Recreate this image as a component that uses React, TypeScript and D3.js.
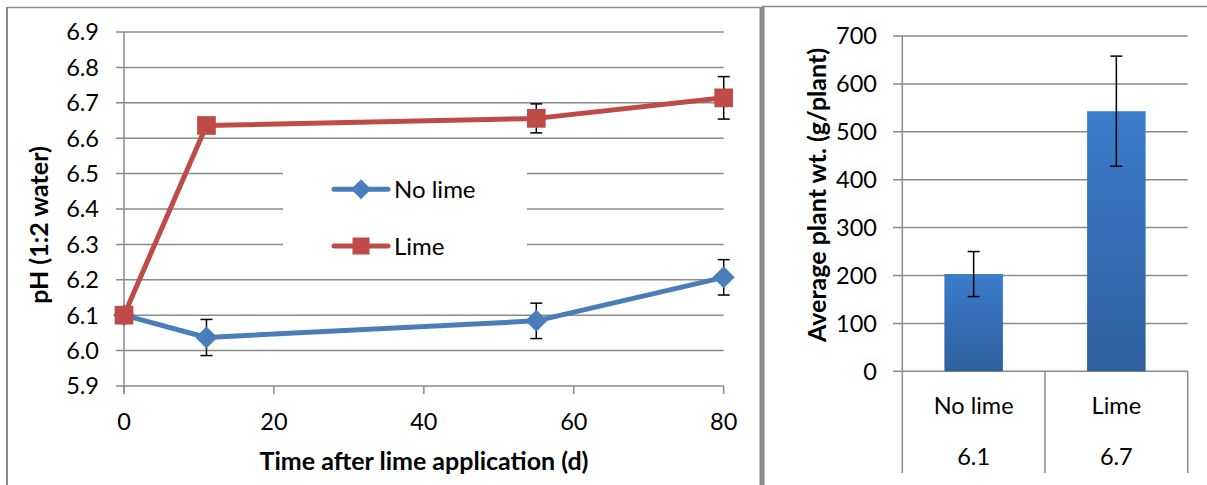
import React from 'react'
import * as d3 from 'd3'

// pH over time (left chart)
const days = [0, 11, 55, 80]
const noLimePH = [6.1, 6.037, 6.084, 6.207]
const noLimeErr = [0, 0.051, 0.05, 0.05]
const limePH = [6.1, 6.636, 6.656, 6.714]
const limeErr = [0, 0, 0.041, 0.06]
const phTicks = [5.9, 6.0, 6.1, 6.2, 6.3, 6.4, 6.5, 6.6, 6.7, 6.8, 6.9]
const dayTicks = [0, 20, 40, 60, 80]

// plant weight (right chart)
const treatments = ['No lime', 'Lime']
const soilPH = ['6.1', '6.7']
const plantWt = [203, 543]
const plantWtErr = [47, 115]
const wtTicks = [0, 100, 200, 300, 400, 500, 600, 700]

const FONT = 'Lato, "Open Sans", sans-serif'
const GRID = '#8a8a8a'
const BLUE = '#4A7EBB'
const RED = '#BE4B48'
const TICK_FS = 23.5
const TITLE_FS = 25

const App = () => {
  const W = 1207
  const H = 485

  // left chart scales
  const x = d3.scaleLinear().domain([0, 80]).range([124, 723.7])
  const y = d3.scaleLinear().domain([5.9, 6.9]).range([386, 32])

  const line = d3.line<number>()
    .x((d, i) => x(days[i]))
    .y(d => y(d))

  // right chart scales
  const catBand = d3.scaleBand<string>().domain(treatments).range([902.3, 1187.7])
  const barBand = d3.scaleBand<string>().domain(treatments).range([902.3, 1187.7])
    .paddingInner(0.59).paddingOuter(0.295)
  const yw = d3.scaleLinear().domain([0, 700]).range([371.3, 36])

  const series = [
    { name: 'No lime', vals: noLimePH, err: noLimeErr, color: BLUE, shape: 'diamond' },
    { name: 'Lime', vals: limePH, err: limeErr, color: RED, shape: 'square' },
  ]

  const marker = (shape: string, cx: number, cy: number, color: string, s: number) =>
    shape === 'diamond'
      ? <path d={`M${cx},${cy - s}L${cx + s},${cy}L${cx},${cy + s}L${cx - s},${cy}Z`} fill={color} />
      : <rect x={cx - s * 0.85} y={cy - s * 0.85} width={s * 1.7} height={s * 1.7} fill={color} />

  return (
    <svg width={W} height={H} style={{ position: 'absolute', left: 0, top: 0, background: '#fff' }}
      fontFamily={FONT}>
      <defs>
        <linearGradient id="barGrad" x1="0" y1="0" x2="0" y2="1">
          <stop offset="0" stopColor="#3B7CCB" />
          <stop offset="1" stopColor="#2F5F9E" />
        </linearGradient>
      </defs>

      {/* frames */}
      <line x1={7} x2={762} y1={7.5} y2={7.5} stroke={GRID} strokeWidth={1.5} />
      <line x1={7} x2={7} y1={7} y2={H} stroke={GRID} strokeWidth={2} />
      <line x1={762} x2={W} y1={6.5} y2={6.5} stroke={GRID} strokeWidth={1.5} />
      <rect x={759.5} y={7} width={5} height={H} fill={GRID} />

      {/* ---------- left chart ---------- */}
      {phTicks.map(t => (
        <g key={t}>
          <line x1={116} x2={723.7} y1={y(t)} y2={y(t)} stroke={GRID} strokeWidth={1.5} />
          <text x={99} y={y(t)} dy="0.36em" textAnchor="end" fontSize={TICK_FS} fill="#000">{t.toFixed(1)}</text>
        </g>
      ))}
      {/* legend box (white background breaks the gridlines) */}
      <rect x={283} y={152} width={244} height={116} fill="#fff" />
      <line x1={124} x2={124} y1={32} y2={394} stroke={GRID} strokeWidth={1.5} />
      {dayTicks.map(t => (
        <g key={t}>
          <line x1={x(t)} x2={x(t)} y1={386} y2={394} stroke={GRID} strokeWidth={1.5} />
          <text x={x(t)} y={421.7} dy="0.36em" textAnchor="middle" fontSize={TICK_FS}>{t}</text>
        </g>
      ))}
      <text x={424} y={470} textAnchor="middle" fontSize={TITLE_FS} fontWeight="bold">Time after lime application (d)</text>
      <text transform="translate(48,225) rotate(-90)" textAnchor="middle" fontSize={TITLE_FS} fontWeight="bold">pH (1:2 water)</text>

      {series.map(s => (
        <path key={s.name} d={line(s.vals) ?? ''} fill="none" stroke={s.color} strokeWidth={5}
          strokeLinejoin="round" strokeLinecap="round" />
      ))}
      {series.map(s => s.vals.map((v, i) => s.err[i] > 0 && (
        <g key={s.name + i} stroke="#000" strokeWidth={1.5}>
          <line x1={x(days[i])} x2={x(days[i])} y1={y(v + s.err[i])} y2={y(v - s.err[i])} />
          <line x1={x(days[i]) - 6} x2={x(days[i]) + 6} y1={y(v + s.err[i])} y2={y(v + s.err[i])} />
          <line x1={x(days[i]) - 6} x2={x(days[i]) + 6} y1={y(v - s.err[i])} y2={y(v - s.err[i])} />
        </g>
      )))}
      {series.map(s => s.vals.map((v, i) => (
        <g key={'m' + s.name + i}>{marker(s.shape, x(days[i]), y(v), s.color, 11)}</g>
      )))}

      {/* legend */}
      {series.map((s, i) => {
        const ly = 189.3 + i * 56.7
        return (
          <g key={'lg' + s.name}>
            <line x1={334} x2={388} y1={ly} y2={ly} stroke={s.color} strokeWidth={5} strokeLinecap="round" />
            {marker(s.shape, 361, ly, s.color, 10)}
            <text x={394} y={ly} dy="0.36em" fontSize={24}>{s.name}</text>
          </g>
        )
      })}

      {/* ---------- right chart ---------- */}
      {wtTicks.map(t => (
        <g key={t}>
          <line x1={893} x2={1187.7} y1={yw(t)} y2={yw(t)} stroke={GRID} strokeWidth={1.5} />
          <text x={877} y={yw(t)} dy="0.36em" textAnchor="end" fontSize={TICK_FS}>{t}</text>
        </g>
      ))}
      <line x1={902.3} x2={902.3} y1={36} y2={371.3} stroke={GRID} strokeWidth={1.5} />
      {treatments.map((c, i) => {
        const bx = barBand(c) ?? 0
        const cx = bx + barBand.bandwidth() / 2
        return (
          <g key={c}>
            <rect x={bx} y={yw(plantWt[i])} width={barBand.bandwidth()} height={yw(0) - yw(plantWt[i])}
              fill="url(#barGrad)" />
            <g stroke="#000" strokeWidth={1.5}>
              <line x1={cx} x2={cx} y1={yw(plantWt[i] + plantWtErr[i])} y2={yw(plantWt[i] - plantWtErr[i])} />
              <line x1={cx - 6} x2={cx + 6} y1={yw(plantWt[i] + plantWtErr[i])} y2={yw(plantWt[i] + plantWtErr[i])} />
              <line x1={cx - 6} x2={cx + 6} y1={yw(plantWt[i] - plantWtErr[i])} y2={yw(plantWt[i] - plantWtErr[i])} />
            </g>
          </g>
        )
      })}
      {/* multi-level category axis */}
      {[...treatments.map(c => catBand(c) ?? 0), 1187.7].map((bx, i) => (
        <line key={'div' + i} x1={bx} x2={bx} y1={371.3} y2={473} stroke={GRID} strokeWidth={1.5} />
      ))}
      {treatments.map((c, i) => {
        const cx = (catBand(c) ?? 0) + catBand.bandwidth() / 2
        return (
          <g key={'lab' + c}>
            <text x={cx} y={405.7} dy="0.36em" textAnchor="middle" fontSize={TICK_FS}>{c}</text>
            <text x={cx} y={456.7} dy="0.36em" textAnchor="middle" fontSize={TICK_FS}>{soilPH[i]}</text>
          </g>
        )
      })}
      <text transform="translate(826,195) rotate(-90)" textAnchor="middle" fontSize={TITLE_FS} fontWeight="bold">
        Average plant wt. (g/plant)
      </text>
    </svg>
  )
}

export default App
